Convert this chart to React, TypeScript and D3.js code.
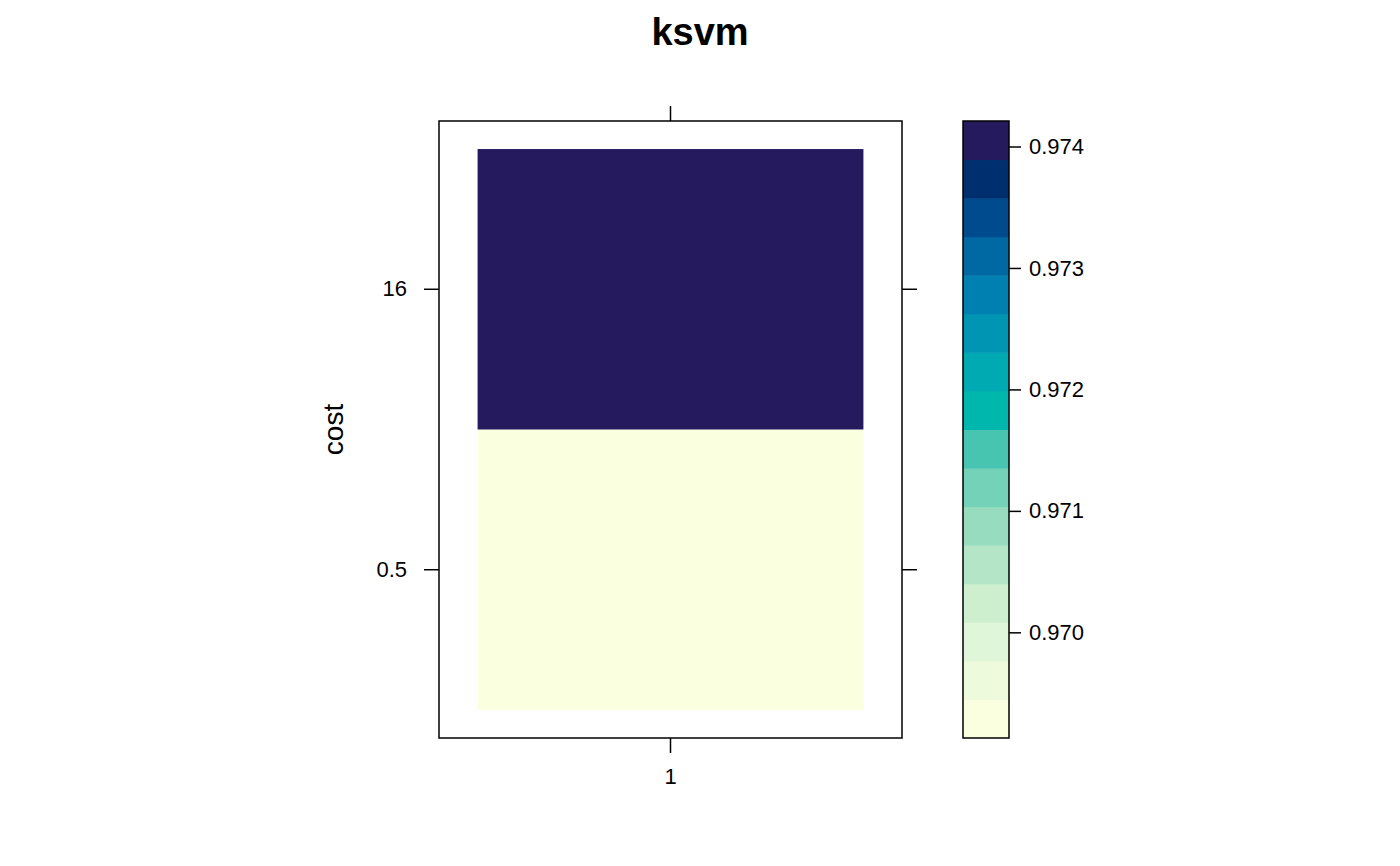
import * as d3 from "d3";
import React, { useRef, useEffect } from "react";

const mainWidth = 1400;
const mainHeight = 866;

// data
const sigmaLevels = ["1"];
const costLevels = ["0.5", "16"];
const accuracy = [
  { sigma: "1", cost: "0.5", value: 0.96913 },
  { sigma: "1", cost: "16", value: 0.97421 },
];
const legendTicks = [0.97, 0.971, 0.972, 0.973, 0.974];

// YlGnBu-like palette, low to high
const palette = [
  "#FAFFDF", "#EEFADC", "#E0F6D8", "#CDEFCE", "#B3E5C6", "#97DCBE",
  "#73D2B7", "#47C5B0", "#00B7AE", "#00AAB2", "#0096B3", "#0080B0",
  "#0068A3", "#004B8E", "#002F70", "#261A5E",
];

const panel = { left: 439, right: 902, top: 121, bottom: 738 };
const key = { left: 963, right: 1009 };
const tickLen = 15;
const font = "'Liberation Sans', Arial, Helvetica, sans-serif";

function App() {
  const ref = useRef<SVGSVGElement>(null);

  useEffect(() => {
    const svg = d3.select(ref.current);
    svg.selectAll("*").remove();

    const x = d3
      .scaleBand()
      .domain(sigmaLevels)
      .range([panel.left, panel.right])
      .paddingInner(0)
      .paddingOuter(0.1);
    const y = d3
      .scaleBand()
      .domain(costLevels)
      .range([panel.bottom, panel.top])
      .paddingInner(0)
      .paddingOuter(0.1);

    const extent = d3.extent(accuracy, (d) => d.value) as [number, number];
    const color = d3.scaleQuantize<string>().domain(extent).range(palette);

    // cells
    svg
      .append("g")
      .selectAll("rect")
      .data(accuracy)
      .join("rect")
      .attr("x", (d) => x(d.sigma)!)
      .attr("y", (d) => y(d.cost)!)
      .attr("width", x.bandwidth())
      .attr("height", y.bandwidth())
      .attr("fill", (d) => color(d.value));

    // panel box
    svg
      .append("rect")
      .attr("x", panel.left)
      .attr("y", panel.top)
      .attr("width", panel.right - panel.left)
      .attr("height", panel.bottom - panel.top)
      .attr("fill", "none")
      .attr("stroke", "#000")
      .attr("stroke-width", 1.5);

    // axes (lattice style: ticks on all four sides, labels bottom/left)
    const axisStyle = (g: any) => {
      g.select(".domain").remove();
      g.selectAll("line").attr("stroke", "#000").attr("stroke-width", 1.5);
      g.selectAll("text")
        .attr("fill", "#000")
        .style("font-family", font)
        .style("font-size", "22px");
    };
    svg
      .append("g")
      .attr("transform", `translate(0,${panel.bottom})`)
      .call(d3.axisBottom(x).tickSizeInner(tickLen).tickSizeOuter(0).tickPadding(15))
      .call(axisStyle);
    svg
      .append("g")
      .attr("transform", `translate(0,${panel.top})`)
      .call(d3.axisTop(x).tickSizeInner(tickLen).tickSizeOuter(0).tickFormat(() => ""))
      .call(axisStyle);
    svg
      .append("g")
      .attr("transform", `translate(${panel.left},0)`)
      .call(d3.axisLeft(y).tickSizeInner(tickLen).tickSizeOuter(0).tickPadding(17))
      .call(axisStyle);
    svg
      .append("g")
      .attr("transform", `translate(${panel.right},0)`)
      .call(d3.axisRight(y).tickSizeInner(tickLen).tickSizeOuter(0).tickFormat(() => ""))
      .call(axisStyle);

    // y label
    svg
      .append("text")
      .attr("transform", `translate(343,${(panel.top + panel.bottom) / 2}) rotate(-90)`)
      .attr("text-anchor", "middle")
      .style("font-family", font)
      .style("font-size", "28px")
      .text("cost");

    // title
    svg
      .append("text")
      .attr("x", mainWidth / 2)
      .attr("y", 45)
      .attr("text-anchor", "middle")
      .style("font-family", font)
      .style("font-size", "38px")
      .style("font-weight", "bold")
      .text("ksvm");

    // color key
    const k = d3.scaleLinear().domain(extent).range([panel.bottom, panel.top]);
    const breaks = d3.range(palette.length + 1).map(
      (i) => extent[0] + ((extent[1] - extent[0]) * i) / palette.length
    );
    svg
      .append("g")
      .selectAll("rect")
      .data(palette)
      .join("rect")
      .attr("x", key.left)
      .attr("y", (_, i) => k(breaks[i + 1]))
      .attr("width", key.right - key.left)
      .attr("height", (_, i) => k(breaks[i]) - k(breaks[i + 1]) + 0.5)
      .attr("fill", (d) => d);
    svg
      .append("rect")
      .attr("x", key.left)
      .attr("y", panel.top)
      .attr("width", key.right - key.left)
      .attr("height", panel.bottom - panel.top)
      .attr("fill", "none")
      .attr("stroke", "#000")
      .attr("stroke-width", 1.5);
    svg
      .append("g")
      .attr("transform", `translate(${key.right},0)`)
      .call(
        d3
          .axisRight(k)
          .tickValues(legendTicks)
          .tickFormat(d3.format(".3f"))
          .tickSizeInner(12)
          .tickSizeOuter(0)
          .tickPadding(8)
      )
      .call(axisStyle);
  }, []);

  return (
    <div style={{ position: "absolute", left: 0, top: 0 }}>
      <svg ref={ref} width={mainWidth} height={mainHeight} style={{ display: "block", background: "#fff" }}></svg>
    </div>
  );
}

export default App;
